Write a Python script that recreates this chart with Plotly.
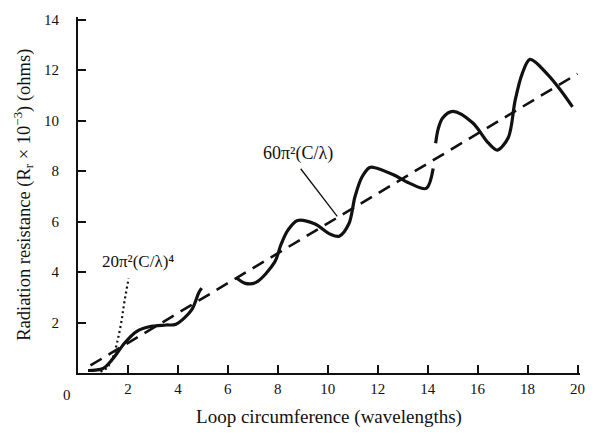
import plotly.graph_objects as go

# Measured radiation resistance (x 10^-3 ohms) vs loop circumference (wavelengths), three drawn pieces
seg1_c = [0.4, 1.0, 1.39, 1.86, 2.34, 2.85, 3.52, 3.92, 4.55, 4.83, 4.95]
seg1_r = [0.1, 0.18, 0.56, 1.18, 1.64, 1.83, 1.90, 1.93, 2.5, 3.17, 3.36]

seg2_c = [6.34, 6.7, 7.13, 7.88, 8.12, 8.40, 8.79, 9.47, 10.10, 10.46, 10.85, 11.09, 11.37, 11.68, 11.84, 12.63, 13.27, 13.94, 14.22]
seg2_r = [3.77, 3.55, 3.59, 4.40, 5.07, 5.65, 6.04, 5.91, 5.50, 5.42, 5.92, 6.98, 7.76, 8.14, 8.14, 7.85, 7.52, 7.31, 8.1]

seg3_c = [14.32, 14.42, 14.6, 15.01, 15.8, 16.43, 16.79, 17.23, 17.5, 17.78, 18.1, 18.81, 19.37, 19.8]
seg3_r = [9.1, 9.66, 10.1, 10.36, 9.91, 9.11, 8.83, 9.33, 10.78, 11.84, 12.42, 11.82, 11.14, 10.54]

# Large-loop approximation 60*pi^2*(C/lambda) (dashed line, end points)
large_c = [0.5, 20.0]
large_r = [0.3, 11.85]

# Small-loop approximation 20*pi^2*(C/lambda)^4 (dotted curve)
small_c = [0.9, 1.15, 1.39, 1.58, 1.74, 1.86, 2.03]
small_r = [0.05, 0.2, 0.6, 1.27, 2.05, 2.83, 3.75]

x_ticks = [2, 4, 6, 8, 10, 12, 14, 16, 18, 20]
y_ticks = [2, 4, 6, 8, 10, 12, 14]

ink = "#111111"
font_family = "Liberation Serif, Times New Roman, serif"

fig = go.Figure()

fig.add_trace(go.Scatter(x=large_c, y=large_r, mode="lines",
                         line=dict(color=ink, width=2.6, dash="13px,8px"),
                         showlegend=False, hoverinfo="skip"))
fig.add_trace(go.Scatter(x=small_c, y=small_r, mode="lines",
                         line=dict(color=ink, width=2.2, dash="2px,3px", shape="spline"),
                         showlegend=False, hoverinfo="skip"))
for cs, rs in [(seg1_c, seg1_r), (seg2_c, seg2_r), (seg3_c, seg3_r)]:
    fig.add_trace(go.Scatter(x=cs, y=rs, mode="lines",
                             line=dict(color=ink, width=3.2, shape="spline", smoothing=0.9),
                             showlegend=False, hoverinfo="skip"))

# Labels
fig.add_annotation(x=8.79, y=8.7, text="60π²(C/λ)", showarrow=False,
                   font=dict(family=font_family, size=18, color=ink))
fig.add_annotation(x=10.38, y=6.2, ax=8.87, ay=8.15, axref="x", ayref="y",
                   text="", showarrow=True, arrowhead=0, arrowwidth=1.3, arrowcolor=ink)
fig.add_annotation(x=2.4, y=4.4, text="20π²(C/λ)⁴", showarrow=False,
                   font=dict(family=font_family, size=17, color=ink))
# Shared origin label
fig.add_annotation(x=0, y=0, text="0", showarrow=False, xanchor="center", yanchor="top",
                   xshift=-11, yshift=-12, font=dict(family=font_family, size=15, color=ink))
# Y axis title
fig.add_annotation(xref="paper", yref="paper", x=-0.11, y=0.5, xanchor="center", yanchor="middle",
                   text="Radiation resistance (R<sub>r</sub> × 10<sup>−3</sup>) (ohms)",
                   textangle=-90, showarrow=False,
                   font=dict(family=font_family, size=18.5, color=ink))

fig.update_layout(
    width=597, height=436,
    margin=dict(l=78, r=12, t=14, b=63),
    paper_bgcolor="white", plot_bgcolor="white",
    font=dict(family=font_family, size=15, color=ink),
)
fig.update_xaxes(
    range=[0, 20.1], tickmode="array", tickvals=x_ticks,
    ticktext=[str(v) for v in x_ticks],
    ticks="inside", ticklen=8, tickwidth=1.5, tickcolor=ink,
    showline=True, linecolor=ink, linewidth=2, showgrid=False, zeroline=False,
    ticklabelstandoff=1, tickfont=dict(family=font_family, size=15),
    title=dict(text="Loop circumference (wavelengths)", standoff=14,
               font=dict(family=font_family, size=19)),
)
fig.update_yaxes(
    range=[0, 14.1], tickmode="array", tickvals=y_ticks,
    ticktext=[str(v) for v in y_ticks],
    ticks="inside", ticklen=8, tickwidth=1.5, tickcolor=ink,
    showline=True, linecolor=ink, linewidth=2, showgrid=False, zeroline=False,
    ticklabelstandoff=14,
    tickfont=dict(family=font_family, size=15),
)

fig.write_html("out.html", config={"displayModeBar": False},
               post_script="document.body.style.margin='0px';")
